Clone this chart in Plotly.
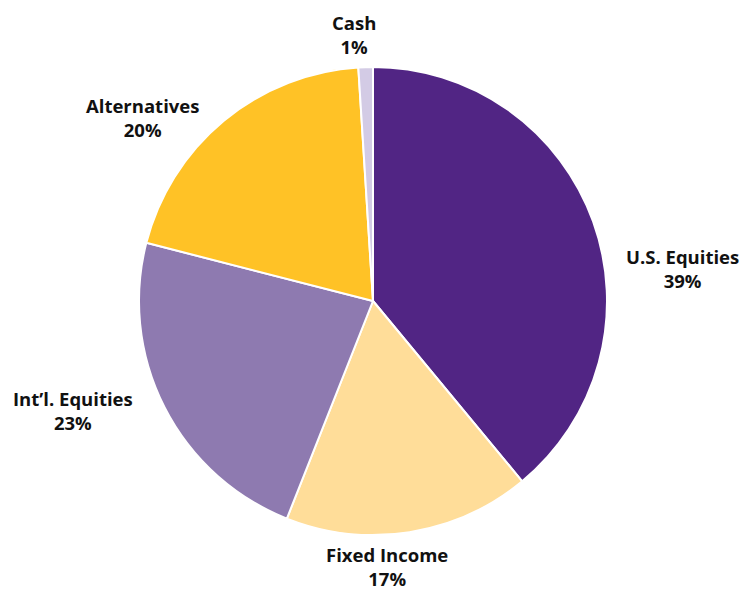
import plotly.graph_objects as go

W, H = 743, 591

categories = ["U.S. Equities", "Fixed Income", "Int\u2019l. Equities", "Alternatives", "Cash"]
values = [39, 17, 23, 20, 1]
colors = ["#512584", "#FFDD99", "#8E7AB0", "#FFC226", "#D3CBE5"]

# label anchor positions in pixels (center x, center y from top)
label_pos = {
    "U.S. Equities": (682, 268),
    "Fixed Income": (387, 566),
    "Int\u2019l. Equities": (73, 410),
    "Alternatives": (142, 117),
    "Cash": (354, 35),
}

cx, cy, r = 373, 301, 234

fig = go.Figure(go.Pie(
    labels=categories,
    values=values,
    sort=False,
    direction="clockwise",
    rotation=0,
    marker=dict(colors=colors, line=dict(color="white", width=2)),
    textinfo="none",
    hoverinfo="label+percent",
    showlegend=False,
    domain=dict(x=[(cx - r) / W, (cx + r) / W], y=[1 - (cy + r) / H, 1 - (cy - r) / H]),
))

for cat, val in zip(categories, values):
    px, py = label_pos[cat]
    fig.add_annotation(
        x=px / W, y=1 - py / H, xref="paper", yref="paper",
        text=f"<b>{cat}<br>{val}%</b>", showarrow=False,
        align="center", xanchor="center", yanchor="middle", borderpad=0,
        font=dict(family="Open Sans", size=18.5, color="#111111"),
    )

fig.update_layout(
    width=W, height=H,
    margin=dict(l=0, r=0, t=0, b=0),
    paper_bgcolor="white", plot_bgcolor="white",
)

fig.write_html(
    "out.html",
    config={"displayModeBar": False},
    post_script="document.body.style.margin='0';document.body.style.overflow='hidden';",
)
